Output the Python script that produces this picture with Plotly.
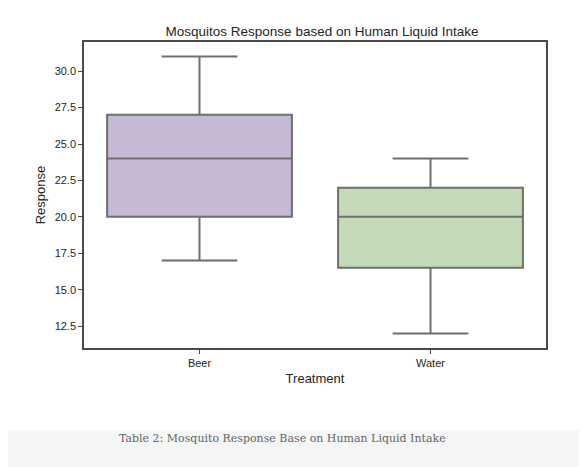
import plotly.graph_objects as go

# Box statistics
treatments = ["Beer", "Water"]
lower = [17, 12]
q1 = [20, 16.5]
median = [24, 20]
q3 = [27, 22]
upper = [31, 24]
fills = ["#c6b9d3", "#c4d9b7"]

fig = go.Figure()
for i, t in enumerate(treatments):
    fig.add_trace(go.Box(
        x=[t], q1=[q1[i]], median=[median[i]], q3=[q3[i]],
        lowerfence=[lower[i]], upperfence=[upper[i]],
        width=0.8, whiskerwidth=0.41,
        fillcolor=fills[i], line=dict(color="#6e6e6e", width=2),
        boxpoints=False, showlegend=False, hoverinfo="y",
    ))

font = "Liberation Sans, Arial, sans-serif"
fig.update_layout(
    width=587, height=467,
    margin=dict(l=76, r=49, t=34, b=127),
    paper_bgcolor="white", plot_bgcolor="white",
    font=dict(family=font, color="#262626", size=11),
    title=dict(text="Mosquitos Response based on Human Liquid Intake",
               x=0.535, xanchor="center", y=0.95, yanchor="middle",
               font=dict(size=13.5, color="#262626")),
    xaxis=dict(title=dict(text="Treatment", font=dict(size=13), standoff=6),
               showline=True, linecolor="#4a4a4a", linewidth=1.5, mirror=True,
               ticks="outside", ticklen=4, tickcolor="#4a4a4a", showgrid=False),
    yaxis=dict(title=dict(text="Response", font=dict(size=13), standoff=6),
               range=[11, 32], tickvals=[12.5, 15, 17.5, 20, 22.5, 25, 27.5, 30],
               tickformat=".1f",
               showline=True, linecolor="#4a4a4a", linewidth=1.5, mirror=True,
               ticks="outside", ticklen=4, tickcolor="#4a4a4a",
               showgrid=False, zeroline=False),
    shapes=[dict(type="rect", xref="paper", yref="paper",
                 x0=-0.25, x1=1.25, y0=-0.45, y1=-0.27,
                 fillcolor="#f4f5f5", line=dict(width=0), layer="below")],
    annotations=[dict(text="Table 2: Mosquito Response Base on Human Liquid Intake",
                      xref="paper", yref="paper", x=0.43, y=-0.325,
                      showarrow=False,
                      font=dict(family="DejaVu Serif, serif", size=11, color="#666"))],
)

fig.write_html("out.html")
